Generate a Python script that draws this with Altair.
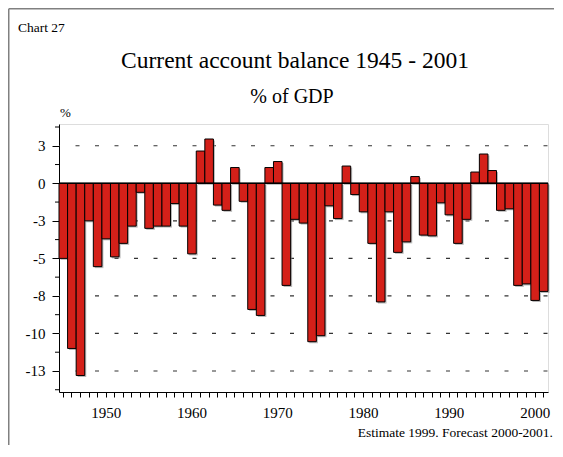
import altair as alt
import pandas as pd

# ---------------- data ----------------
YEARS = list(range(1945, 2002))
BALANCE = [
    -5.0, -11.0, -12.8, -2.5, -5.55, -3.7, -4.9, -4.0, -2.85, -0.6,
    -3.0, -2.85, -2.85, -1.35, -2.85, -4.7, 2.15, 2.95, -1.45, -1.8,
    1.05, -1.2, -8.4, -8.8, 1.05, 1.45, -6.8, -2.4, -2.65, -10.55,
    -10.15, -1.5, -2.35, 1.15, -0.75, -1.9, -4.0, -7.9, -1.9, -4.6,
    -3.9, 0.45, -3.45, -3.5, -1.3, -2.1, -4.0, -2.4, 0.75, 1.95,
    0.85, -1.8, -1.7, -6.8, -6.7, -7.8, -7.2,
]
Y_TICKS = [2.5, 0, -2.5, -5, -7.5, -10, -12.5]
Y_TICK_LABELS = ["3", "0", "-3", "-5", "-8", "-10", "-13"]
Y_MINOR = [3.75, 1.25, -1.25, -3.75, -6.25, -8.75, -11.25, -13.75]
Y_GRID = [2.5, -2.5, -5, -7.5, -10, -12.5]
X_LABEL_YEARS = [1950, 1960, 1970, 1980, 1990, 2000]
Y_DOMAIN = [-13.9, 3.95]

CHART_NO = "Chart 27"
TITLE = "Current account balance 1945 - 2001"
SUBTITLE = "% of GDP"
UNIT = "%"
FOOTNOTE = "Estimate 1999. Forecast 2000-2001."

df = pd.DataFrame({"year": YEARS, "value": BALANCE})

FONT = "Liberation Serif"
W, H = 489, 268
Y_SCALE = alt.Scale(domain=Y_DOMAIN, nice=False, zero=False)

label_expr = " : ".join(
    f"datum.value == {v} ? '{l}'" for v, l in zip(Y_TICKS, Y_TICK_LABELS)
) + " : ''"
x_label_expr = "indexof([" + ",".join(str(v) for v in X_LABEL_YEARS) + "], datum.value) >= 0 ? '' + datum.value : ''"

x_enc = alt.X(
    "year:O",
    scale=alt.Scale(paddingInner=0, paddingOuter=0),
    axis=alt.Axis(
        title=None, labelAngle=0, labelExpr=x_label_expr, tickSize=5,
        labelPadding=8, labelFontSize=15, domainColor="black", tickColor="black",
        labelColor="black", labelFont=FONT, grid=False,
    ),
)
y_enc = alt.Y(
    "value:Q",
    scale=Y_SCALE,
    axis=alt.Axis(
        title=None, values=Y_TICKS, labelExpr=label_expr, tickSize=7,
        labelPadding=7, labelFontSize=15, labelFont=FONT, labelColor="black",
        domainColor="black", tickColor="black", grid=False,
    ),
)

base = alt.Chart(df)
shadow = base.mark_bar(color="#8a8a8a", opacity=0.6, xOffset=1.5, yOffset=1.5).encode(
    x=x_enc, y=y_enc
)
bars = base.mark_bar(fill="#D42019", stroke="black", strokeWidth=1).encode(
    x=x_enc, y=y_enc
)

grid = alt.Chart(pd.DataFrame({"g": Y_GRID})).mark_rule(
    color="#333", strokeWidth=1.2, strokeDash=[4, 15.5], strokeDashOffset=-0.5
).encode(y=alt.Y("g:Q", scale=Y_SCALE))

minor = alt.Chart(pd.DataFrame({"m": Y_MINOR})).mark_rule(
    color="black", strokeWidth=1
).encode(y=alt.Y("m:Q", scale=Y_SCALE), x=alt.value(-4), x2=alt.value(0))

zero = alt.Chart(pd.DataFrame({"z": [0]})).mark_rule(color="black", strokeWidth=1.5).encode(
    y=alt.Y("z:Q", scale=Y_SCALE)
)


def text_layer(txt, x, y, size, align="left"):
    return alt.Chart(pd.DataFrame({"t": [txt]})).mark_text(
        font=FONT, fontSize=size, align=align, baseline="alphabetic", color="black"
    ).encode(text="t:N", x=alt.value(x), y=alt.value(y))


def frame_rule(x, x2, y, y2):
    return alt.Chart(pd.DataFrame({"a": [0]})).mark_rule(
        color="#808080", strokeWidth=1.5
    ).encode(x=alt.value(x), x2=alt.value(x2), y=alt.value(y), y2=alt.value(y2))


texts = [
    text_layer(CHART_NO, -41, -92, 13.5),
    text_layer(TITLE, 236, -56, 23.5, "center"),
    text_layer(SUBTITLE, 233, -21, 20, "center"),
    text_layer(UNIT, 1, -7, 13),
    text_layer(FOOTNOTE, 494, 313, 13.5, "right"),
]
frames = [
    frame_rule(-50.25, -50.25, -115.25, 345),
    frame_rule(-50.25, 500, -115.25, -115.25),
]

chart = alt.layer(grid, shadow, bars, zero, minor, *texts, *frames).properties(
    width=W, height=H,
    autosize=alt.AutoSizeParams(type="none"),
    padding={"left": 51, "top": 116, "right": 6, "bottom": 53},
).configure_view(stroke="#222", strokeWidth=1).configure(background="white")

chart.save("out.html", embed_options={"renderer": "svg", "actions": False})
